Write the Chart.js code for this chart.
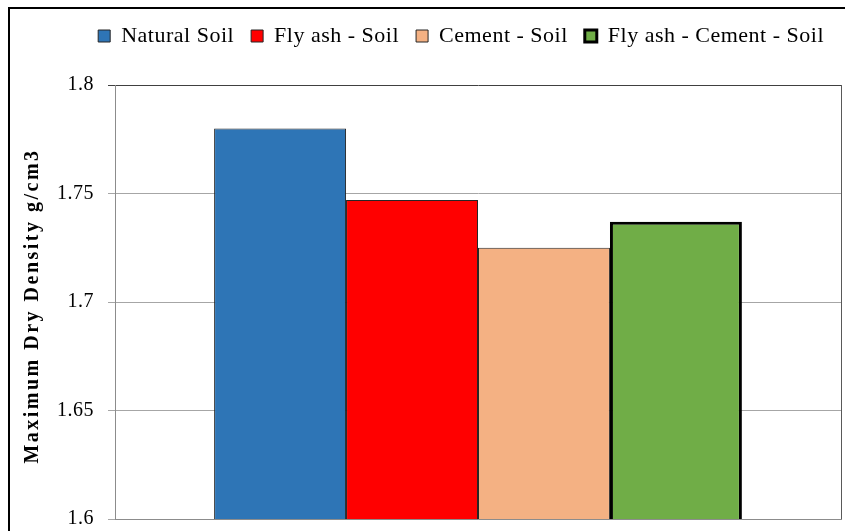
<!DOCTYPE html>
<html>
<head>
<meta charset="utf-8">
<script src="https://cdn.jsdelivr.net/npm/chart.js@4/dist/chart.umd.min.js"></script>
<style>
  html, body { margin: 0; padding: 0; background: #fff; }
  #wrap { width: 845px; height: 531px; }
</style>
</head>
<body>
<div id="wrap"><canvas id="mddChart"></canvas></div>
<script>
// data
const categories = [''];
const seriesNames = ['Natural Soil', 'Fly ash - Soil', 'Cement - Soil', 'Fly ash - Cement - Soil'];
const seriesValues = [1.780, 1.747, 1.725, 1.737];
const seriesColors = ['#2E75B6', '#FF0000', '#F4B183', '#70AD47'];
const seriesBorderWidths = [1, 1, 1, 3];
const yTicks = [1.6, 1.65, 1.7, 1.75, 1.8];
const yTitle = 'Maximum Dry Density g/cm3';

const serif = "'Liberation Serif', 'Times New Roman', serif";

// Word-style loose text spacing for everything chart.js draws
const spacingPlugin = {
  id: 'spacing',
  beforeLayout(chart) { chart.ctx.letterSpacing = '0.5px'; },
  beforeDraw(chart) { chart.ctx.letterSpacing = '0.5px'; }
};

// outer frame, right edge of the plot area and the rotated y title
const framePlugin = {
  id: 'frame',
  afterDraw(chart) {
    const { ctx, chartArea } = chart;
    ctx.save();
    ctx.strokeStyle = '#000';
    ctx.lineWidth = 2;
    ctx.beginPath();
    ctx.moveTo(9, 540);
    ctx.lineTo(9, 8);
    ctx.lineTo(850, 8);
    ctx.stroke();

    ctx.strokeStyle = '#595959';
    ctx.lineWidth = 1;
    ctx.beginPath();
    ctx.moveTo(Math.round(chartArea.right) + 0.5, chartArea.top);
    ctx.lineTo(Math.round(chartArea.right) + 0.5, chartArea.bottom);
    ctx.stroke();

    ctx.translate(33, (chartArea.top + chartArea.bottom) / 2 + 4);
    ctx.rotate(-Math.PI / 2);
    ctx.letterSpacing = '2.5px';
    ctx.font = 'bold 20px ' + serif;
    ctx.fillStyle = '#000';
    ctx.textAlign = 'center';
    ctx.textBaseline = 'middle';
    ctx.fillText(yTitle, 0, 0);
    ctx.restore();
  }
};

new Chart(document.getElementById('mddChart'), {
  type: 'bar',
  data: {
    labels: categories,
    datasets: seriesNames.map((name, i) => ({
      label: name,
      data: [seriesValues[i]],
      backgroundColor: seriesColors[i],
      borderColor: i === 3 ? '#000' : '#262626',
      borderWidth: seriesBorderWidths[i],
      borderSkipped: false
    }))
  },
  options: {
    responsive: true,
    maintainAspectRatio: false,
    animation: false,
    categoryPercentage: 0.727,
    barPercentage: 1,
    layout: { padding: { left: 43, right: 4, top: 8, bottom: 12 } },
    plugins: {
      legend: {
        position: 'top',
        align: 'end',
        labels: {
          boxWidth: 12,
          boxHeight: 12,
          padding: 17,
          color: '#000',
          font: { family: serif, size: 22 }
        }
      },
      tooltip: { enabled: false }
    },
    scales: {
      x: {
        grid: { display: false },
        border: { color: '#8c8c8c' },
        ticks: { display: false },
        afterFit: s => { s.height = 0; }
      },
      // empty spacer between the legend and the plot
      gap: {
        type: 'category',
        position: 'top',
        grid: { display: false },
        border: { display: false },
        ticks: { display: false },
        afterFit: s => { s.height = 28; }
      },
      y: {
        min: 1.6,
        max: 1.8,
        afterBuildTicks: axis => { axis.ticks = yTicks.map(v => ({ value: v })); },
        // the bottom label may hang over the cropped lower edge, as in the picture
        afterFit: s => { s.paddingBottom = 0; },
        grid: {
          color: ctx => ctx.tick && ctx.tick.value === 1.8 ? '#404040' : '#a6a6a6',
          tickLength: 7
        },
        border: { color: '#8c8c8c' },
        ticks: {
          color: '#000',
          padding: 14,
          font: { family: serif, size: 20 },
          callback: v => String(v)
        }
      }
    }
  },
  plugins: [spacingPlugin, framePlugin]
});
</script>
</body>
</html>
